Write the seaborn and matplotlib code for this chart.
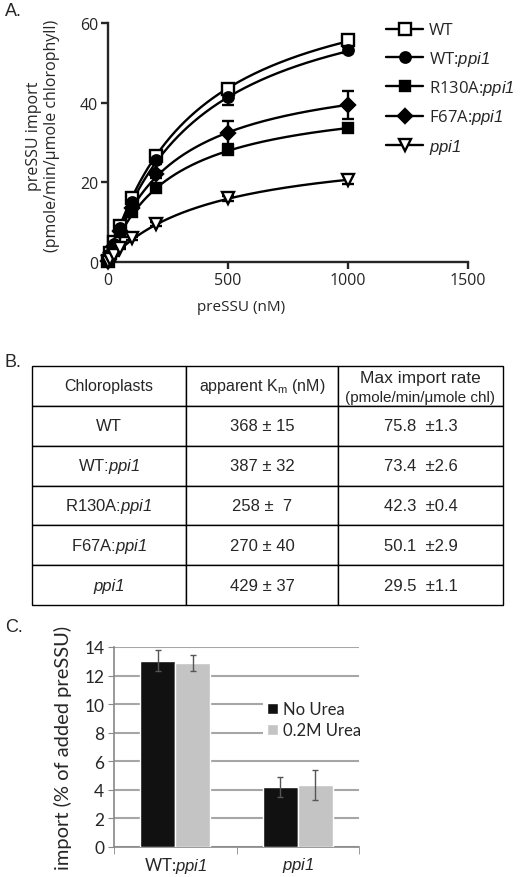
import numpy as np
import pandas as pd
import seaborn as sns
import matplotlib.pyplot as plt
from matplotlib.lines import Line2D

# ---- panel A data ----
conc = [0, 10, 25, 50, 100, 200, 500, 1000]
strains = ['WT', 'WT:ppi1', 'R130A:ppi1', 'F67A:ppi1', 'ppi1']
wt = [0.3, 2.2, 4.9, 9.0, 16.0, 26.5, 43.5, 55.7]
wt_ppi1 = [0.3, 2.0, 4.5, 8.5, 15.0, 25.5, 41.5, 53.2]
r130a = [0.2, 1.5, 3.8, 7.5, 12.5, 18.5, 28.0, 33.7]
f67a = [0.2, 1.7, 4.0, 7.8, 13.5, 22.0, 32.5, 39.5]
ppi1 = [0.1, 0.8, 1.8, 3.5, 6.0, 9.5, 16.0, 20.5]
wt_err = [0.2, 0.3, 0.4, 0.5, 0.6, 0.8, 0.9, 0.7]
wt_ppi1_err = [0.2, 0.3, 0.4, 0.5, 0.6, 0.8, 2.0, 0.8]
r130a_err = [0.2, 0.3, 0.3, 0.4, 0.5, 0.6, 0.8, 0.6]
f67a_err = [0.2, 0.3, 0.3, 0.4, 0.5, 0.8, 3.0, 3.5]
ppi1_err = [0.1, 0.2, 0.2, 0.3, 0.4, 0.5, 0.6, 1.0]

# ---- panel B data ----
km = [368, 387, 258, 270, 429]
km_err = [15, 32, 7, 40, 37]
vmax = [75.8, 73.4, 42.3, 50.1, 29.5]
vmax_err = [1.3, 2.6, 0.4, 2.9, 1.1]

# ---- panel C data ----
groups = ['WT:ppi1', 'ppi1']
no_urea = [13.05, 4.2]
no_urea_err = [0.75, 0.7]
urea = [12.9, 4.35]
urea_err = [0.55, 1.05]

sns.set_style('ticks')
plt.rcParams['font.family'] = ['Open Sans', 'DejaVu Sans']
plt.rcParams['mathtext.fontset'] = 'custom'
plt.rcParams['mathtext.rm'] = 'Liberation Sans'
plt.rcParams['mathtext.it'] = 'Liberation Sans:italic'
plt.rcParams['mathtext.sf'] = 'Liberation Sans:italic'

W, H = 520, 878
fig = plt.figure(figsize=(W / 100, H / 100), dpi=100)


def box(x0, y0, x1, y1):
    return [x0 / W, 1 - y1 / H, (x1 - x0) / W, (y1 - y0) / H]


def italic_label(s):
    # 'sf' slot holds the italic face; it keeps the digit italic too
    return s.replace('ppi1', r'$\mathsf{ppi1}$')


# ================= A =================
axa = fig.add_axes(box(108, 24, 468, 263))
series = [wt, wt_ppi1, r130a, f67a, ppi1]
errs = [wt_err, wt_ppi1_err, r130a_err, f67a_err, ppi1_err]
markers = ['s', 'o', 's', 'D', 'v']
faces = ['white', 'black', 'black', 'black', 'white']
msizes = [8, 7.5, 7.5, 7, 8.5]

xfit = np.linspace(0, 1000, 200)
fit = pd.concat([pd.DataFrame({'conc': xfit,
                               'rate': vm * xfit / (k + xfit),
                               'strain': s})
                 for s, k, vm in zip(strains, km, vmax)])
sns.lineplot(data=fit, x='conc', y='rate', hue='strain',
             palette=['black'] * 5, linewidth=1.7, legend=False, ax=axa)

handles = []
for s, y, e, m, fc, ms in zip(strains, series, errs, markers, faces, msizes):
    axa.errorbar(conc, y, yerr=e, fmt='none', ecolor='black', elinewidth=1.7,
                 capsize=4, capthick=1.7, clip_on=False, zorder=3)
    axa.plot(conc, y, ls='none', marker=m, ms=ms, mfc=fc, mec='black',
             mew=1.7, clip_on=False, zorder=4)
    handles.append(Line2D([], [], color='black', lw=1.7, marker=m, ms=ms,
                          mfc=fc, mec='black', mew=1.7,
                          label=italic_label(s)))

axa.set_xlim(0, 1500)
axa.set_ylim(0, 60)
axa.set_xticks([0, 500, 1000, 1500])
axa.set_yticks([0, 20, 40, 60])
axa.tick_params(width=1.7, length=5, labelsize=11.5, pad=2)
for sp in ['left', 'bottom']:
    axa.spines[sp].set_linewidth(1.7)
sns.despine(ax=axa)
axa.set_xlabel('preSSU (nM)', fontsize=11)
axa.xaxis.set_label_coords(0.37, -0.155)
axa.set_ylabel('preSSU import\n(pmole/min/\u03bcmole chlorophyll)',
               fontsize=11.5, linespacing=1.15)
axa.yaxis.set_label_coords(-0.133, 0.53)
axa.legend(handles=handles, loc='upper left', bbox_to_anchor=(0.755, 1.03),
           frameon=False, fontsize=12, handlelength=2.2, handletextpad=0.35,
           labelspacing=0.62, borderaxespad=0)

# ================= B =================
axb = fig.add_axes(box(32, 367, 503, 606))
axb.axis('off')
rows = [['Chloroplasts', r'apparent K$_{\mathrm{m}}$ (nM)', '']]
for s, k, ke, v, ve in zip(strains, km, km_err, vmax, vmax_err):
    rows.append([s, f'{k} \u00b1 {ke}', f'{v:.1f}  \u00b1{ve:.1f}'])
rows[3][1] = '258 \u00b1  7'
cw = np.array([154, 152, 165]) / 471
tbl = axb.table(cellText=rows, colWidths=cw, bbox=[0, 0, 1, 1],
                cellLoc='center')
tbl.auto_set_font_size(False)
for (r, c), cell in tbl.get_celld().items():
    cell.set_linewidth(1.0)
    t = cell.get_text()
    t.set_fontfamily('Liberation Sans')
    t.set_fontsize(12 if r > 0 else 11.5)
    if r > 0 and c == 0:
        if rows[r][0] == 'ppi1':
            t.set_fontstyle('italic')
        else:
            t.set_text(italic_label(rows[r][0]))
axb.text(cw[0] + cw[1] + cw[2] / 2, 1 - 0.5 / 6 + 0.037, 'Max import rate',
         ha='center', va='center', fontsize=12.5, family='Liberation Sans')
axb.text(cw[0] + cw[1] + cw[2] / 2, 1 - 0.5 / 6 - 0.045,
         '(pmole/min/\u03bcmole chl)', ha='center', va='center',
         fontsize=11, family='Liberation Sans')

# ================= C =================
axc = fig.add_axes(box(114, 648, 359, 848))
dfc = pd.DataFrame({'group': groups * 2,
                    'cond': ['No Urea'] * 2 + ['0.2M Urea'] * 2,
                    'value': no_urea + urea})
sns.barplot(data=dfc, x='group', y='value', hue='cond',
            palette=['#111111', '#c4c4c4'], saturation=1, width=0.57,
            errorbar=None, ax=axc, zorder=3)
for cont, err in zip(axc.containers, [no_urea_err, urea_err]):
    xs = [p.get_x() + p.get_width() / 2 for p in cont]
    hs = [p.get_height() for p in cont]
    axc.errorbar(xs, hs, yerr=err, fmt='none', ecolor='#555555',
                 elinewidth=1, capsize=2.5, capthick=1, zorder=4)
axc.set_xlim(-0.5, 1.5)
axc.set_ylim(0, 14)
axc.set_yticks(range(0, 15, 2))
axc.yaxis.grid(True, color='#a6a6a6', lw=1.5)
axc.set_axisbelow(True)
axc.set_xticks([0, 1])
axc.set_xticklabels([italic_label(g) for g in groups], fontsize=12,
                    family='Lato')
axc.set_xticks([-0.5, 0.5, 1.5], minor=True)
axc.tick_params(axis='x', which='major', length=0, pad=6)
axc.tick_params(axis='x', which='minor', length=5, color='#888888')
axc.tick_params(axis='y', length=4, color='#888888', labelsize=12.5, pad=3)
for t in axc.get_yticklabels():
    t.set_family('Lato')
sns.despine(ax=axc)
for sp in ['left', 'bottom']:
    axc.spines[sp].set_color('#888888')
    axc.spines[sp].set_linewidth(1.2)
axc.set_xlabel('')
axc.set_ylabel('import (% of added preSSU)', fontsize=14.5, family='Lato')
axc.yaxis.set_label_coords(-0.17, 0.5)
axc.legend(loc='upper left', bbox_to_anchor=(0.61, 0.745),
           frameon=True, facecolor='white', edgecolor='none',
           framealpha=1, prop={'family': 'Lato', 'size': 12},
           handlelength=0.7, handleheight=0.7, handletextpad=0.3,
           borderpad=0.2, labelspacing=0.3, fancybox=False,
           borderaxespad=0)

# panel letters
for lab, y in [('A.', 12), ('B.', 363), ('C.', 628)]:
    fig.text(5 / W, 1 - y / H, lab, fontsize=13, va='center',
             family='Liberation Sans')

fig.savefig('out.png', dpi=100)
